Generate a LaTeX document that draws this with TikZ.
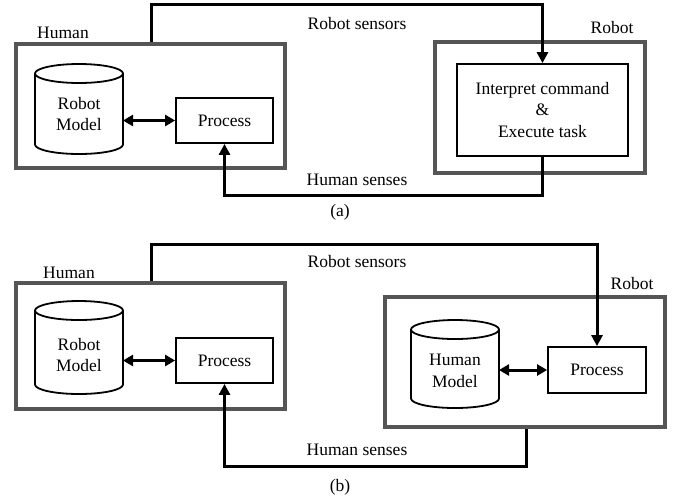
\documentclass[tikz,border=0pt]{standalone}
\usepackage{fontspec}
\setmainfont{Liberation Serif}
\usetikzlibrary{arrows.meta}
\definecolor{boxgray}{HTML}{555555}
\tikzset{
  txt/.style={font=\fontsize{17.5}{21.5}\selectfont, inner sep=0pt, align=center},
  outerbox/.style={draw=boxgray, line width=4pt, inner sep=0pt},
  inbox/.style={draw=black, line width=1.8pt, inner sep=0pt},
  conn/.style={draw=black, line width=3pt},
  tip/.tip={Triangle[length=11pt,width=11pt]},
  dtip/.tip={Triangle[length=10pt,width=11pt]}
}
\newcommand\mycyl[3]{%
  \node[minimum width=88pt, minimum height=#3, inner sep=0pt, outer sep=0pt] (#1) at (#2) {};
  \draw[inbox, fill=white] ([yshift=-9.5pt]#1.north west) -- ([yshift=9.5pt]#1.south west)
    arc[start angle=180, end angle=360, x radius=44pt, y radius=9.5pt]
    -- ([yshift=-9.5pt]#1.north east);
  \draw[inbox] ([yshift=-9.5pt]#1.north) ellipse [x radius=44pt, y radius=9.5pt];
}
\begin{document}
\begin{tikzpicture}[x=1pt,y=-1pt]
\useasboundingbox (0,0) rectangle (679,499);
% ---------- (a) ----------
\node[outerbox, minimum width=269pt, minimum height=124pt] (hA) at (150.5,106) {};
\node[outerbox, minimum width=210pt, minimum height=131pt] (rA) at (540,107.5) {};
\node[txt] (lhA) at (63,33) {Human};
\node[txt] (lrA) at (612,28) {Robot};
\mycyl{cA}{79,109}{90pt}
\node[txt] (tcA) at (79,114) {Robot\\Model};
\node[inbox, minimum width=97pt, minimum height=45pt] (pA) at (224.5,120.5) {};
\node[txt] (tpA) at (pA) {Process};
\node[inbox, minimum width=171pt, minimum height=92pt] (iA) at (542.5,110) {};
\node[txt] (tiA) at (iA) {Interpret command\\\&\\Execute task};
\draw[conn, dtip-dtip] (cA.east |- pA.west) -- (pA.west);
\coordinate (rsA) at (151,4);
\draw[conn, -tip] (hA.north -| rsA) -- (rsA) -| (iA.north);
\coordinate (hsA) at (225,195);
\draw[conn, -tip] (iA.south) |- (pA.south |- hsA) -- (pA.south);
\node[txt] (lrsA) at (357,24) {Robot sensors};
\node[txt] (lhsA) at (357,180) {Human senses};
\node[txt] (capA) at (340,212) {(a)};
% ---------- (b) ----------
\node[outerbox, minimum width=269pt, minimum height=126pt] (hB) at (150.5,346) {};
\node[outerbox, minimum width=280pt, minimum height=130pt] (rB) at (525,362) {};
\node[txt] (lhB) at (69,273) {Human};
\node[txt] (lrB) at (632,284) {Robot};
\mycyl{cB}{79,347.5}{93pt}
\node[txt] (tcB) at (79,355) {Robot\\Model};
\node[inbox, minimum width=97pt, minimum height=45pt] (pB) at (224.5,360.5) {};
\node[txt] (tpB) at (pB) {Process};
\mycyl{cH}{455,364}{88pt}
\node[txt] (tcH) at (455,371) {Human\\Model};
\node[inbox, minimum width=98pt, minimum height=46pt] (qB) at (597,370) {};
\node[txt] (tqB) at (qB) {Process};
\draw[conn, dtip-dtip] (cB.east |- pB.west) -- (pB.west);
\draw[conn, dtip-dtip] (cH.east |- qB.west) -- (qB.west);
\coordinate (rsB) at (151,244);
\draw[conn, -tip] (hB.north -| rsB) -- (rsB) -| (qB.north);
\coordinate (hsB) at (526,466);
\draw[conn, -tip] (rB.south -| hsB) -- (hsB) -| (pB.south);
\node[txt] (lrsB) at (357,262) {Robot sensors};
\node[txt] (lhsB) at (357,450) {Human senses};
\node[txt] (capB) at (340,487) {(b)};
\end{tikzpicture}
\end{document}
